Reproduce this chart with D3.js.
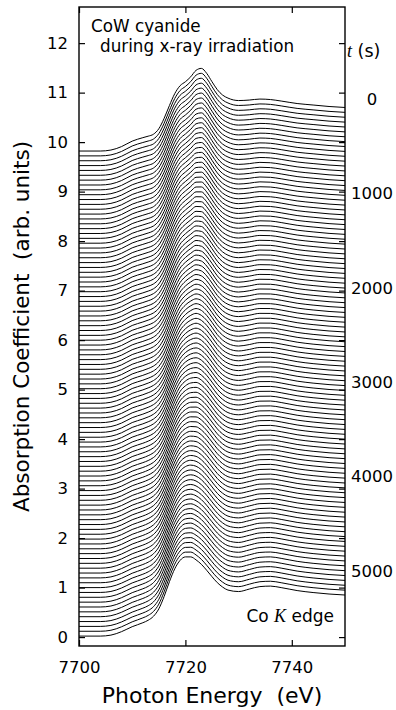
<!DOCTYPE html>
<html>
<head>
<meta charset="utf-8">
<script src="https://cdn.jsdelivr.net/npm/d3@7"></script>
<style>
  body { margin: 0; background: #fff; }
  text { font-family: "DejaVu Sans", sans-serif; fill: #000; }
</style>
</head>
<body>
<svg id="chart" width="396" height="710"></svg>
<script>
// photon energy grid (eV) on which the spectra were read
const energy = [7700, 7704, 7706, 7708, 7710, 7712, 7713, 7714, 7715, 7716, 7717, 7718, 7719, 7720, 7721,
  7722, 7723, 7724, 7725, 7726, 7727, 7728, 7730, 7732, 7734, 7736, 7738, 7741, 7744, 7747, 7750];

// absorption above the pre-edge level, read from the first, a middle and the last scan
const muStart = [0, 0, 0.02, 0.09, 0.2, 0.27, 0.3, 0.34, 0.45, 0.66, 0.92, 1.16, 1.32, 1.4, 1.5,
  1.63, 1.67, 1.57, 1.4, 1.24, 1.13, 1.07, 1.02, 1.03, 1.05, 1.04, 1.01, 0.96, 0.93, 0.9, 0.88];
const muMid = [0, 0, 0.02, 0.09, 0.2, 0.27, 0.31, 0.36, 0.45, 0.62, 0.88, 1.15, 1.37, 1.5, 1.58,
  1.62, 1.58, 1.48, 1.34, 1.19, 1.08, 1.01, 0.96, 0.99, 1.03, 1.03, 1.0, 0.94, 0.9, 0.87, 0.85];
const muEnd = [0, 0, 0.02, 0.09, 0.19, 0.27, 0.32, 0.4, 0.55, 0.8, 1.1, 1.36, 1.53, 1.6, 1.6,
  1.54, 1.45, 1.33, 1.2, 1.08, 0.99, 0.93, 0.9, 0.95, 1.0, 1.01, 0.98, 0.92, 0.88, 0.85, 0.83];
const keyTimes = [0, 2570, 5140];
const keySpectra = [muStart, muMid, muEnd];

// scans and waterfall offset
const nScans = 101;
const scanInterval = 51.4;   // s between scans
const topBase = 9.82;        // pre-edge level of scan at t = 0
const offsetStep = 0.098;    // vertical shift between scans
const topLabel = 10.87;      // y value where the t = 0 label sits

const yTicks = d3.range(0, 13);
const xTicks = [7700, 7720, 7740];
const tLabels = [0, 1000, 2000, 3000, 4000, 5000];

const svg = d3.select('#chart');
const pLeft = 79, pRight = 345, pTop = 7, pBottom = 646;

const x = d3.scaleLinear().domain([7700, 7750]).range([pLeft, pRight]);
const y = d3.scaleLinear().domain([-0.18, 12.73]).range([pBottom, pTop]);

svg.append('clipPath').attr('id', 'plot')
  .append('rect').attr('x', pLeft).attr('y', pTop).attr('width', pRight - pLeft).attr('height', pBottom - pTop);

// spectrum of a scan at time t, between the two read spectra around it
function spectrum(t) {
  let k = 0;
  while (k < keyTimes.length - 2 && t > keyTimes[k + 1]) k++;
  const f = (t - keyTimes[k]) / (keyTimes[k + 1] - keyTimes[k]);
  const a = keySpectra[k], b = keySpectra[k + 1];
  return energy.map((e, j) => [e, a[j] + (b[j] - a[j]) * f]);
}

const line = d3.line()
  .x(d => x(d[0]))
  .y(d => y(d[1]))
  .curve(d3.curveMonotoneX);

const scans = d3.range(nScans).map(i => {
  const base = topBase - i * offsetStep;
  return spectrum(i * scanInterval).map(d => [d[0], d[1] + base]);
});

svg.append('g')
  .attr('clip-path', 'url(#plot)')
  .selectAll('path')
  .data(scans)
  .join('path')
  .attr('d', line)
  .attr('fill', 'none')
  .attr('stroke', '#000')
  .attr('stroke-width', 1);

// axes
const gl = svg.append('g').attr('transform', `translate(${pLeft},0)`)
  .call(d3.axisLeft(y).tickValues(yTicks).tickSize(-6).tickPadding(11));
gl.selectAll('text').attr('font-size', 16.5).attr('font-family', 'DejaVu Sans');

svg.append('g').attr('transform', `translate(${pRight},0)`)
  .call(d3.axisRight(y).tickValues(yTicks).tickSize(-6).tickFormat(''));

const gb = svg.append('g').attr('transform', `translate(0,${pBottom})`)
  .call(d3.axisBottom(x).tickValues(xTicks).tickSize(-6).tickPadding(15).tickFormat(d3.format('d')));
gb.selectAll('text').attr('font-size', 16.5).attr('font-family', 'DejaVu Sans');

svg.append('g').attr('transform', `translate(0,${pTop})`)
  .call(d3.axisTop(x).tickValues(xTicks).tickSize(-6).tickFormat(''));

svg.selectAll('.domain').remove();
svg.selectAll('.tick line').attr('stroke', '#000').attr('stroke-width', 1.2);

svg.append('rect')
  .attr('x', pLeft).attr('y', pTop)
  .attr('width', pRight - pLeft).attr('height', pBottom - pTop)
  .attr('fill', 'none').attr('stroke', '#000').attr('stroke-width', 1.4);

// time labels on the right
svg.append('g').selectAll('text')
  .data(tLabels)
  .join('text')
  .attr('x', 372)
  .attr('y', t => y(topLabel - t / scanInterval * offsetStep))
  .attr('dy', '0.36em')
  .attr('text-anchor', 'middle')
  .attr('font-size', 16.5)
  .text(t => t);

const tt = svg.append('text').attr('x', 347).attr('y', 57).attr('font-size', 17.5);
tt.append('tspan').attr('font-family', 'Liberation Serif').attr('font-style', 'italic').attr('font-size', 18).text('t');
tt.append('tspan').text(' (s)');

// annotations
svg.append('text').attr('x', 91).attr('y', 32).attr('font-size', 16.8).text('CoW cyanide');
svg.append('text').attr('x', 100).attr('y', 51.6).attr('font-size', 16.8).text('during x-ray irradiation');

const ck = svg.append('text').attr('x', 334).attr('y', 622).attr('text-anchor', 'end').attr('font-size', 17);
ck.append('tspan').text('Co ');
ck.append('tspan').attr('font-family', 'Liberation Serif').attr('font-style', 'italic').attr('font-size', 18).text('K');
ck.append('tspan').text(' edge');

// axis titles
svg.append('text')
  .attr('x', (pLeft + pRight) / 2).attr('y', 703)
  .attr('text-anchor', 'middle').attr('font-size', 22)
  .style('white-space', 'pre')
  .text('Photon Energy  (eV)');

svg.append('text')
  .attr('transform', `translate(29,${(pTop + pBottom) / 2}) rotate(-90)`)
  .attr('text-anchor', 'middle').attr('font-size', 21.5)
  .style('white-space', 'pre')
  .text('Absorption Coefficient  (arb. units)');
</script>
</body>
</html>
